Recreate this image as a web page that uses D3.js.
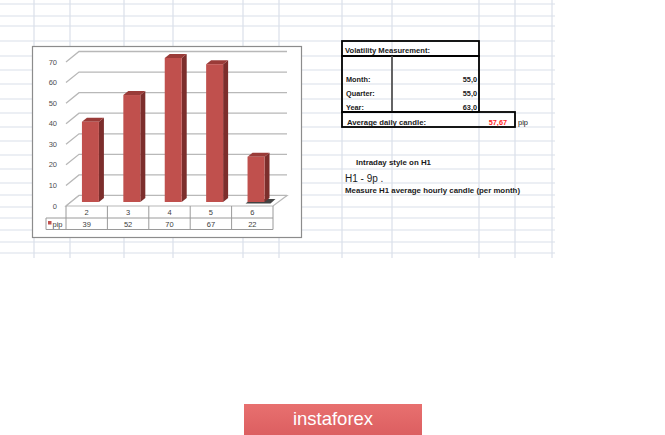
<!DOCTYPE html>
<html>
<head>
<meta charset="utf-8">
<script src="https://cdn.jsdelivr.net/npm/d3@7"></script>
<style>
  body { margin: 0; background: #fff; }
  svg { display: block; }
  text { font-family: "Liberation Sans", Arial, sans-serif; }
</style>
</head>
<body>
<div id="chart"></div>
<script>
// chart data
const categories = ["2", "3", "4", "5", "6"];
const pipValues = [39, 52, 70, 67, 22];
const yTicks = [0, 10, 20, 30, 40, 50, 60, 70];
const seriesName = "pip";

// volatility table
const periodLabels = ["Month:", "Quarter:", "Year:"];
const periodValues = ["55,0", "55,0", "63,0"];
const avgCandle = "57,67";

// spreadsheet grid lines (background)
const gridCols = [34, 70, 124, 173, 243, 279, 342, 392, 479, 515, 552];
const gridRows = [4, 16, 26, 41, 56, 70, 84, 99, 113, 127, 141, 155, 169, 183, 195, 207, 218, 230, 242, 253];

const W = 665, H = 435;
const svg = d3.select("#chart").append("svg").attr("width", W).attr("height", H);

// sheet grid
svg.append("g").selectAll("line").data(gridCols).join("line")
  .attr("x1", d => d).attr("x2", d => d).attr("y1", 0).attr("y2", 258)
  .attr("stroke", "#dadfea").attr("stroke-width", 1.2);
svg.append("g").selectAll("line").data(gridRows).join("line")
  .attr("x1", 0).attr("x2", 555).attr("y1", d => d).attr("y2", d => d)
  .attr("stroke", "#dadfea").attr("stroke-width", 1.2);

// chart frame
svg.append("rect").attr("x", 32.5).attr("y", 46.5).attr("width", 269).attr("height", 191)
  .attr("fill", "#fff").attr("stroke", "#8c8c8c").attr("stroke-width", 1.2);

// scales
const x = d3.scaleBand().domain(categories).range([66, 273]);
const y = d3.scaleLinear().domain([0, 70]).range([206, 62]);
const depth = { dx: 13, dy: -10.5 };

// back wall gridlines
const plot = svg.append("g");
plot.selectAll("path.grid").data(yTicks).join("path")
  .attr("class", "grid")
  .attr("fill", "none").attr("stroke", "#b8b8b8").attr("stroke-width", 1.3)
  .attr("d", v => `M66,${y(v)}L${66 + depth.dx},${y(v) + depth.dy}L287,${y(v) + depth.dy}`);

// floor
plot.append("path")
  .attr("fill", "#fff").attr("stroke", "#b8b8b8").attr("stroke-width", 1.2)
  .attr("d", `M66,${y(0)}L${66 + depth.dx},${y(0) + depth.dy}L287,${y(0) + depth.dy}L273,${y(0)}Z`);

// y labels
plot.selectAll("text.ytick").data(yTicks).join("text")
  .attr("class", "ytick")
  .attr("x", 57).attr("y", v => y(v) + 2.5)
  .attr("text-anchor", "end").attr("font-size", 7.5).attr("fill", "#4d4d4d")
  .text(d => d);

// bars (front face sits 40% into the depth)
const bw = x.bandwidth() * 0.41;
const fx = v => x(v) + x.bandwidth() * 0.385;
const base = y(0) - 4;
const barTop = v => base - (y(0) - y(v));
const side = { dx: 5, dy: -4 };

const bars = plot.selectAll("g.bar").data(categories.map((c, i) => ({ c, v: pipValues[i] })))
  .join("g").attr("class", "bar");

// floor shadow for short bars
bars.filter(d => d.v < 30).append("path")
  .attr("fill", "#222").attr("opacity", 0.85)
  .attr("d", d => {
    const l = fx(d.c) - 2, r = fx(d.c) + bw + side.dx + 6;
    return `M${l},${base + 1.5}L${l + 6},${base - 3}L${r},${base - 3}L${r - 5},${base + 1.5}Z`;
  });

bars.append("path") // side
  .attr("fill", "#7c2e2c")
  .attr("d", d => {
    const r = fx(d.c) + bw, t = barTop(d.v);
    return `M${r},${base}L${r + side.dx},${base + side.dy}L${r + side.dx},${t + side.dy}L${r},${t}Z`;
  });
bars.append("path") // top
  .attr("fill", "#9a3b38")
  .attr("d", d => {
    const l = fx(d.c), r = l + bw, t = barTop(d.v);
    return `M${l},${t}L${l + side.dx},${t + side.dy}L${r + side.dx},${t + side.dy}L${r},${t}Z`;
  });
bars.append("rect") // front
  .attr("x", d => fx(d.c)).attr("y", d => barTop(d.v))
  .attr("width", bw).attr("height", d => base - barTop(d.v))
  .attr("fill", "#c0504d");

// data table under the chart
const tbl = svg.append("g").attr("stroke", "#9a9a9a").attr("stroke-width", 1).attr("fill", "none");
const r0 = 206, r1 = 218, r2 = 229.5;
tbl.append("line").attr("x1", 66).attr("x2", 273).attr("y1", r1).attr("y2", r1);
tbl.append("line").attr("x1", 46).attr("x2", 273).attr("y1", r2).attr("y2", r2);
tbl.append("line").attr("x1", 46).attr("x2", 66).attr("y1", r1).attr("y2", r1);
tbl.append("line").attr("x1", 46).attr("x2", 46).attr("y1", r1).attr("y2", r2);
tbl.selectAll("line.col").data(categories.concat(["end"])).join("line")
  .attr("class", "col")
  .attr("x1", (d, i) => 66 + i * x.bandwidth()).attr("x2", (d, i) => 66 + i * x.bandwidth())
  .attr("y1", r0).attr("y2", r2);

svg.append("g").selectAll("text").data(categories).join("text")
  .attr("x", d => x(d) + x.bandwidth() / 2).attr("y", 215)
  .attr("text-anchor", "middle").attr("font-size", 7.5).attr("fill", "#404040")
  .text(d => d);
svg.append("g").selectAll("text").data(pipValues).join("text")
  .attr("x", (d, i) => x(categories[i]) + x.bandwidth() / 2).attr("y", 226.5)
  .attr("text-anchor", "middle").attr("font-size", 7.5).attr("fill", "#404040")
  .text(d => d);
svg.append("rect").attr("x", 48).attr("y", 221).attr("width", 3.5).attr("height", 3.5).attr("fill", "#c0504d");
svg.append("text").attr("x", 52.5).attr("y", 226.5).attr("font-size", 7.5).attr("fill", "#404040").text(seriesName);

// volatility table (right)
const vt = svg.append("g");
const box = (x0, y0, x1, y1) => vt.append("rect").attr("x", x0).attr("y", y0)
  .attr("width", x1 - x0).attr("height", y1 - y0)
  .attr("fill", "none").attr("stroke", "#000").attr("stroke-width", 1.8);
box(342, 41, 479, 56);
box(342, 56, 479, 112);
vt.append("line").attr("x1", 392).attr("x2", 392).attr("y1", 56).attr("y2", 112)
  .attr("stroke", "#555").attr("stroke-width", 1.8);
box(342, 112, 515, 127);

const bold = (t, xx, yy, fs) => vt.append("text").attr("x", xx).attr("y", yy)
  .attr("font-size", fs).attr("font-weight", "bold").attr("fill", "#1a1a1a").text(t);

bold("Volatility Measurement:", 345, 53, 7.3).attr("textLength", 85).attr("lengthAdjust", "spacingAndGlyphs");
vt.selectAll("text.plab").data(periodLabels).join("text")
  .attr("class", "plab")
  .attr("x", 346).attr("y", (d, i) => 82 + i * 14)
  .attr("font-size", 7.3).attr("font-weight", "bold").attr("fill", "#1a1a1a")
  .text(d => d);
vt.selectAll("text.pval").data(periodValues).join("text")
  .attr("class", "pval")
  .attr("x", 477).attr("y", (d, i) => 82 + i * 14)
  .attr("text-anchor", "end")
  .attr("font-size", 7.3).attr("font-weight", "bold").attr("fill", "#1a1a1a")
  .text(d => d);
bold("Average daily candle:", 347, 124.5, 7.3).attr("textLength", 79).attr("lengthAdjust", "spacingAndGlyphs");
vt.append("text").attr("x", 507).attr("y", 124.5).attr("text-anchor", "end")
  .attr("font-size", 7.3).attr("font-weight", "bold").attr("fill", "#ff1f1f").text(avgCandle);
vt.append("text").attr("x", 518).attr("y", 124.5)
  .attr("font-size", 7.5).attr("fill", "#1a1a1a").text("pip");

bold("Intraday style on H1", 356, 164.5, 7.3).attr("textLength", 75).attr("lengthAdjust", "spacingAndGlyphs");
vt.append("text").attr("x", 345).attr("y", 181.5)
  .attr("font-size", 10).attr("fill", "#1a1a1a").text("H1 - 9p .");
bold("Measure H1 average hourly candle (per month)", 345, 192.5, 7.3)
  .attr("textLength", 175).attr("lengthAdjust", "spacingAndGlyphs");

// instaforex badge
const grad = svg.append("defs").append("linearGradient").attr("id", "badge")
  .attr("x1", 0).attr("x2", 0).attr("y1", 0).attr("y2", 1);
grad.append("stop").attr("offset", "0%").attr("stop-color", "#e8706f");
grad.append("stop").attr("offset", "100%").attr("stop-color", "#dc5f61");
svg.append("rect").attr("x", 244).attr("y", 404).attr("width", 178).attr("height", 31)
  .attr("fill", "url(#badge)");
svg.append("text").attr("x", 333).attr("y", 425).attr("text-anchor", "middle")
  .attr("font-family", "'Open Sans', sans-serif").attr("font-weight", 300)
  .attr("font-size", 18.5).attr("fill", "#fff").text("instaforex");
</script>
</body>
</html>
